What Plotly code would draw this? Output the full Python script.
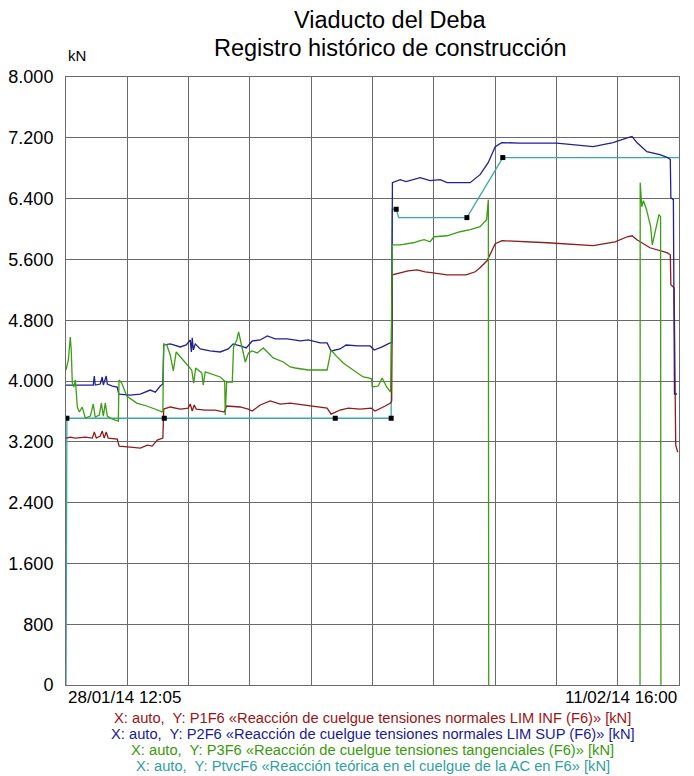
import pandas as pd
import plotly.graph_objects as go

# Time window of the construction record
T_START = pd.Timestamp("2014-01-28 12:05")
T_END = pd.Timestamp("2014-02-11 16:00")

# P1F6 - lower limit normal-stress reaction (hours since start, kN)
p1_hours = [0, 2.4, 5.2, 10.7, 14.6, 15.7, 16.8, 19.0, 20.1, 21.2, 22.3, 23.4, 28.4, 29.5,
            35.6, 41.2, 45.1, 47.8, 50.6, 53.7, 54.2, 57.8, 63.4, 67.8, 68.9, 70.0, 71.1,
            72.2, 77.2, 82.7, 87.7, 89.1, 96.6, 101.0, 103.3, 107.7, 113.2, 118.8, 124.3,
            133.7, 144.8, 147.0, 152.0, 156.5, 163.1, 169.2, 171.4, 177.0, 180.0, 180.6,
            181.0, 185.3, 189.7, 194.7, 199.1, 203.6, 211.3, 221.9, 226.9, 229.6, 233.5,
            238.0, 241.8, 266.8, 292.3, 304.5, 311.2, 313.9, 316.6, 323.8, 329.3, 333.2,
            335.1, 335.4, 337.2, 338.1, 339.2]
p1_kn = [3249, 3262, 3249, 3262, 3249, 3328, 3249, 3275, 3341, 3249, 3328, 3249, 3236, 3143,
         3130, 3117, 3156, 3143, 3222, 3249, 3631, 3658, 3631, 3644, 3697, 3605, 3684,
         3631, 3618, 3618, 3592, 3671, 3658, 3631, 3605, 3684, 3737, 3697, 3710,
         3684, 3644, 3565, 3618, 3644, 3631, 3644, 3605, 3671, 3710, 3737,
         5397, 5424, 5450, 5463, 5437, 5424, 5397, 5397, 5437, 5490, 5582,
         5806, 5846, 5819, 5780, 5832, 5898, 5911, 5858, 5753, 5714, 5688,
         5661, 5266, 5226, 3156, 3064]

# P2F6 - upper limit normal-stress reaction
p2_hours = [0, 7.9, 15.1, 15.7, 16.2, 19.0, 20.1, 20.7, 22.3, 22.9, 25.7, 28.4, 29.3, 35.6,
            41.2, 46.7, 49.5, 52.3, 53.7, 54.2, 57.8, 63.4, 66.7, 68.9, 69.5, 70.0, 70.6,
            71.7, 74.4, 79.9, 85.5, 90.0, 92.7, 96.6, 99.9, 103.3, 107.7, 111.6, 116.0,
            122.7, 129.9, 134.3, 141.0, 144.8, 147.0, 152.0, 155.3, 162.0, 168.7, 170.9,
            175.3, 179.7, 180.6, 181.0, 185.3, 188.6, 192.5, 196.4, 201.9, 207.5, 211.3,
            218.5, 224.1, 229.6, 234.1, 238.0, 241.6, 251.8, 272.1, 292.3, 303.3, 311.6,
            313.9, 316.6, 322.1, 329.3, 333.7, 335.1, 335.4, 336.8, 337.4, 338.8]
p2_kn = [3947, 3947, 3947, 4066, 3947, 3960, 4053, 3947, 4066, 3960, 3934, 3920, 3828, 3815,
         3828, 3881, 3854, 3934, 3960, 4474, 4488, 4448, 4474, 4540, 4382, 4567, 4408,
         4488, 4422, 4395, 4382, 4422, 4488, 4461, 4435, 4527, 4540, 4593, 4553,
         4553, 4527, 4540, 4501, 4501, 4395, 4422, 4474, 4461, 4461, 4408,
         4448, 4501, 4501, 6610, 6649, 6623, 6649, 6676, 6636, 6649, 6610,
         6610, 6610, 6715, 6873, 7084, 7137, 7130, 7130, 7084, 7137, 7203,
         7216, 7137, 7018, 6979, 6939, 6913, 6412, 6386, 3829, 3829]

# P3F6 - tangential-stress reaction (None marks the spans with no reading)
p3_hours = [0, 1.3, 2.4, 2.9, 3.5, 4.3, 5.2, 5.7, 6.3, 7.4, 9.0, 10.7, 13.5, 15.1, 16.2, 18.5,
            19.6, 20.7, 21.8, 22.9, 24.6, 27.3, 29.0, 29.4, 30.9, 33.7, 39.2, 44.8, 50.3,
            53.7, 54.2, 55.9, 57.8, 59.5, 61.1, 63.4, 67.0, 69.7, 70.8, 71.9, 75.3, 76.1,
            77.2, 81.6, 85.5, 88.0, 88.3, 89.1, 92.2, 92.9, 94.7, 95.7, 97.4, 99.4, 101.2,
            103.3, 106.0, 109.4, 111.6, 114.9, 120.5, 124.3, 127.1, 134.3, 141.0, 144.8,
            147.0, 149.8, 153.7, 159.2, 164.8, 167.8, 169.5, 169.8, 173.1, 175.3, 177.8,
            180.0, 181.0, 185.3, 192.5, 196.4, 198.6, 201.9, 204.1, 211.3, 218.5, 224.1,
            229.6, 233.2, 234.2, 234.4, None,
            318.3, 318.4, 319.3, 320.2, 321.9, 324.2, 325.1, 326.0, 326.9, 328.8, 329.7,
            329.9]
p3_kn = [4145, 4277, 4580, 4408, 3973, 3920, 4013, 3841, 3657, 3592, 3657, 3512, 3539, 3697,
         3526, 3552, 3710, 3539, 3710, 3539, 3512, 3486, 3473, 4013, 3973, 3802, 3710,
         3671, 3618, 3592, 4488, 4474, 4343, 4132, 4382, 4316, 4211, 4145, 3973, 4171,
         4106, 3947, 4119, 4079, 4053, 4000, 3552, 3987, 3987, 4448, 4540, 4646, 4474,
         4250, 4369, 4395, 4369, 4435, 4382, 4303, 4250, 4185, 4171, 4145, 4145, 4145,
         4408, 4330, 4237, 4145, 4053, 4040, 4026, 3921, 3934, 4040, 3921, 3855,
         5792, 5792, 5819, 5846, 5859, 5832, 5898, 5911, 5964, 5991, 6030, 6122, 6386,
         0, None,
         0, 6610, 6293, 6372, 6254, 6030, 5792, 5898, 5990, 6188, 6162, 0]

# PtvcF6 - theoretical reaction, piecewise between logged construction stages
ptvc_hours = [0, 0.5, 54.5, 149.3, 180.3, 180.9, 183.1, 184.5, 222.3, 242.2, 339.9]
ptvc_kn = [0, 3510, 3510, 3510, 3510, 6260, 6260, 6150, 6150, 6940, 6940]
ptvc_stage_idx = [1, 2, 3, 4, 6, 8, 9]

# Axis ticks
y_ticks = [0, 800, 1600, 2400, 3200, 4000, 4800, 5600, 6400, 7200, 8000]
y_tick_text = ["0", "800", "1.600", "2.400", "3.200", "4.000", "4.800", "5.600",
               "6.400", "7.200", "8.000"]
x_divisions = 10

legend_lines = [
    ("X: auto,  Y: P1F6 «Reacción de cuelgue tensiones normales LIM INF (F6)» [kN]", "#9a1414"),
    ("X: auto,  Y: P2F6 «Reacción de cuelgue tensiones normales LIM SUP (F6)» [kN]", "#1a1a96"),
    ("X: auto,  Y: P3F6 «Reacción de cuelgue tensiones tangenciales (F6)» [kN]", "#3a9a0a"),
    ("X: auto,  Y: PtvcF6 «Reacción teórica en el cuelgue de la AC en F6» [kN]", "#2f9f9f"),
]

FONT = "Liberation Sans, Arial, sans-serif"
GRID = "#6a6a6a"


def to_time(hours):
    return [None if h is None else T_START + pd.Timedelta(hours=h) for h in hours]


fig = go.Figure()

fig.add_trace(go.Scatter(x=to_time(ptvc_hours), y=ptvc_kn, mode="lines",
                         line=dict(color="#3aa8a8", width=1.3), hoverinfo="skip"))
fig.add_trace(go.Scatter(x=to_time(p1_hours), y=p1_kn, mode="lines",
                         line=dict(color="#8e1c1c", width=1.3), hoverinfo="skip"))
fig.add_trace(go.Scatter(x=to_time(p2_hours), y=p2_kn, mode="lines",
                         line=dict(color="#22228e", width=1.3), hoverinfo="skip"))
fig.add_trace(go.Scatter(x=to_time(p3_hours), y=p3_kn, mode="lines", connectgaps=False,
                         line=dict(color="#3c9e14", width=1.3), hoverinfo="skip"))
fig.add_trace(go.Scatter(x=to_time([ptvc_hours[i] for i in ptvc_stage_idx]),
                         y=[ptvc_kn[i] for i in ptvc_stage_idx], mode="markers",
                         marker=dict(symbol="square", size=5, color="black"),
                         hoverinfo="skip"))

span = T_END - T_START
x_grid = [T_START + span * k / x_divisions for k in range(x_divisions + 1)]

fig.update_xaxes(type="date", range=[T_START, T_END], tickvals=x_grid,
                 ticktext=[""] * len(x_grid), showgrid=True, gridcolor=GRID, gridwidth=1,
                 showline=True, linecolor=GRID, linewidth=1, mirror=True, zeroline=False,
                 ticks="", automargin=False)
fig.update_yaxes(range=[0, 8000], tickvals=y_ticks, ticktext=y_tick_text,
                 showgrid=True, gridcolor=GRID, gridwidth=1, showline=True,
                 linecolor=GRID, linewidth=1, mirror=True, zeroline=False, ticks="",
                 ticklabelstandoff=8, automargin=False,
                 tickfont=dict(family=FONT, size=18, color="black"))

annotations = [
    dict(text="Viaducto del Deba", x=0.530, y=1.0937),
    dict(text="Registro histórico de construcción", x=0.530, y=1.0485),
]
for a in annotations:
    a.update(xref="paper", yref="paper", showarrow=False, xanchor="center",
             yanchor="middle", font=dict(family=FONT, size=23.5, color="black"))

annotations.append(dict(text="kN", x=0.0, y=1.0354, xref="paper", yref="paper",
                        showarrow=False, xanchor="left", yanchor="middle",
                        font=dict(family=FONT, size=15, color="black")))
annotations.append(dict(text=T_START.strftime("%d/%m/%y %H:%M"), x=0, y=0,
                        xref="paper", yref="paper", showarrow=False, xanchor="left",
                        yanchor="top", yshift=-1,
                        font=dict(family=FONT, size=17, color="black")))
annotations.append(dict(text=T_END.strftime("%d/%m/%y %H:%M"), x=1, y=0,
                        xref="paper", yref="paper", showarrow=False, xanchor="right",
                        yanchor="top", yshift=-1,
                        font=dict(family=FONT, size=17, color="black")))

for i, (txt, col) in enumerate(legend_lines):
    annotations.append(dict(text=txt, x=0.5, y=-0.0535 - i * 0.0265, xref="paper",
                            yref="paper", showarrow=False, xanchor="center",
                            yanchor="middle",
                            font=dict(family=FONT, size=14.7, color=col)))

fig.update_layout(
    width=694, height=776,
    margin=dict(l=66, r=15, t=77, b=91),
    paper_bgcolor="white", plot_bgcolor="white",
    showlegend=False,
    annotations=annotations,
)

fig.write_html("out.html")
